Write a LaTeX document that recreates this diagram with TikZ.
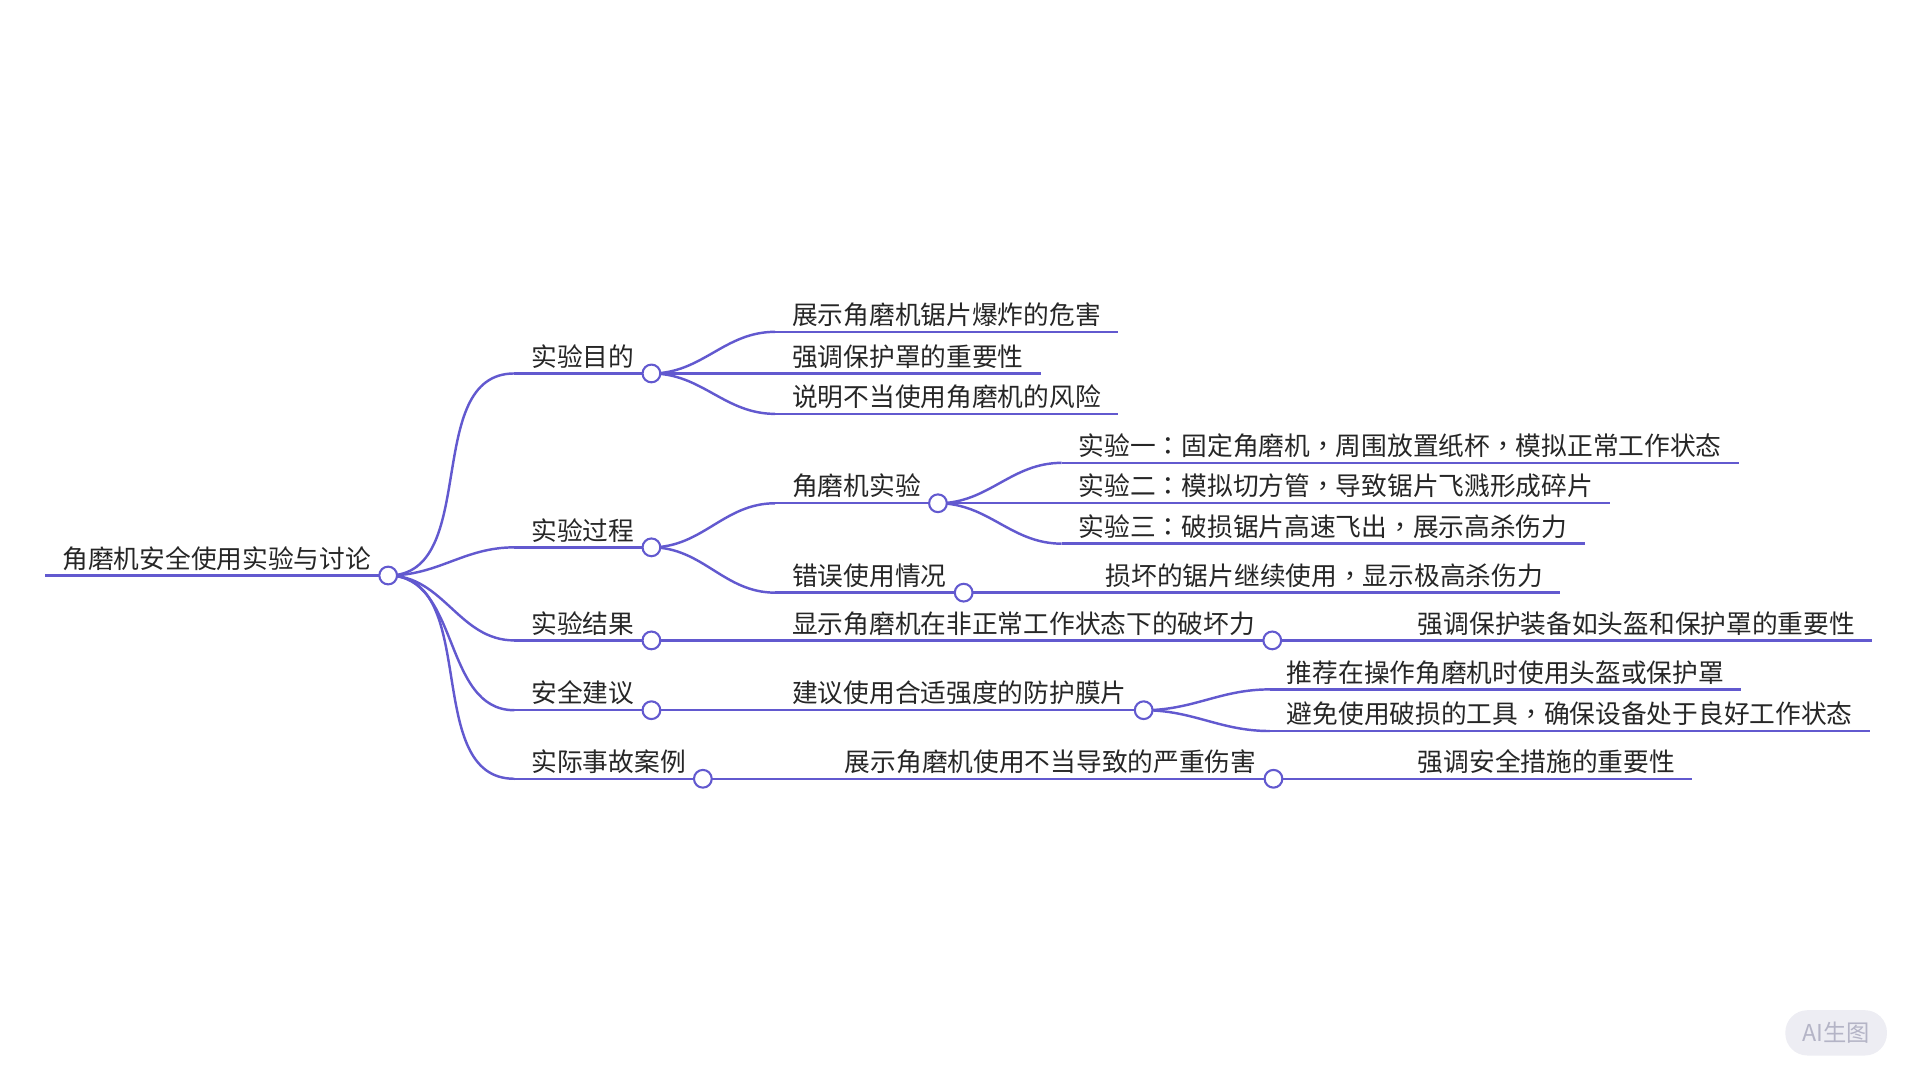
\documentclass[tikz,border=0pt]{standalone}
\usepackage{fontspec}
\setmainfont{Noto Sans CJK SC}
\newfontfamily\punct{Noto Sans CJK TC}
\newcommand{\cn}{{\punct ：}}
\newcommand{\cm}{{\punct ，}}
\definecolor{branch}{HTML}{6259CF}
\definecolor{mark}{HTML}{EDEDF3}
\definecolor{marktext}{HTML}{B4B4C6}
\begin{document}
\begin{tikzpicture}[x=1pt, y=-1pt, line width=2pt, color=branch,
    topic/.style={anchor=south west, inner xsep=13pt, inner ysep=0pt, text height=17pt, text depth=5pt, font=\fontsize{21}{21}\selectfont, text=black!85},
    knob/.style={circle, draw=branch, fill=white, line width=1.7pt, minimum size=14.5pt, inner sep=0pt}]
    \useasboundingbox (0,0) rectangle (1568,882);

    % main topic
    \node[topic] (root) at (37,470) {角磨机安全使用实验与讨论};

    % first level
    \node[topic] (goal) at (420,305) {实验目的};
    \node[topic] (proc) at (420,447) {实验过程};
    \node[topic] (res) at (420,523) {实验结果};
    \node[topic] (adv) at (420,580) {安全建议};
    \node[topic] (case) at (420,636) {实际事故案例};

    % second level
    \node[topic] (goal1) at (633,271) {展示角磨机锯片爆炸的危害};
    \node[topic] (goal2) at (633,305) {强调保护罩的重要性};
    \node[topic] (goal3) at (633,338) {说明不当使用角磨机的风险};
    \node[topic] (test) at (633,411) {角磨机实验};
    \node[topic] (misuse) at (633,484) {错误使用情况};
    \node[topic] (res1) at (633,523) {显示角磨机在非正常工作状态下的破坏力};
    \node[topic] (adv1) at (633,580) {建议使用合适强度的防护膜片};
    \node[topic] (case1) at (676,636) {展示角磨机使用不当导致的严重伤害};

    % third level
    \node[topic] (test1) at (867,378) {实验一\cn 固定角磨机\cm 周围放置纸杯\cm 模拟正常工作状态};
    \node[topic] (test2) at (867,411) {实验二\cn 模拟切方管\cm 导致锯片飞溅形成碎片};
    \node[topic] (test3) at (867,444) {实验三\cn 破损锯片高速飞出\cm 展示高杀伤力};
    \node[topic] (misuse1) at (889,484) {损坏的锯片继续使用\cm 显示极高杀伤力};
    \node[topic] (res2) at (1144,523) {强调保护装备如头盔和保护罩的重要性};
    \node[topic] (adv2) at (1037,563) {推荐在操作角磨机时使用头盔或保护罩};
    \node[topic] (adv3) at (1037,597) {避免使用破损的工具\cm 确保设备处于良好工作状态};
    \node[topic] (case2) at (1144,636) {强调安全措施的重要性};

    % underlines
    \foreach \n in {root,goal,proc,res,adv,case,goal1,goal2,goal3,test,misuse,res1,adv1,case1,test1,test2,test3,misuse1,res2,adv2,adv3,case2}
        \draw (\n.south west) -- (\n.south east);

    % branches
    \foreach \a/\b in {root/goal,root/proc,root/res,root/adv,root/case,
                       goal/goal1,goal/goal2,goal/goal3,proc/test,proc/misuse,
                       res/res1,adv/adv1,case/case1,
                       test/test1,test/test2,test/test3,misuse/misuse1,
                       res1/res2,adv1/adv2,adv1/adv3,case1/case2}
        \draw (\a.south east) to[out=0, in=180] (\b.south west);

    % knobs on the inner nodes
    \foreach \n in {root,goal,proc,res,adv,case,test,misuse,res1,adv1,case1}
        \node[knob] (\n-knob) at (\n.south east) {};

    % corner mark
    \node[fill=mark, rounded corners=18pt, minimum width=83pt, minimum height=37pt, text=marktext, font=\fontsize{19}{19}\selectfont] (stamp) at (1499.5,843.5) {AI生图};
\end{tikzpicture}
\end{document}
